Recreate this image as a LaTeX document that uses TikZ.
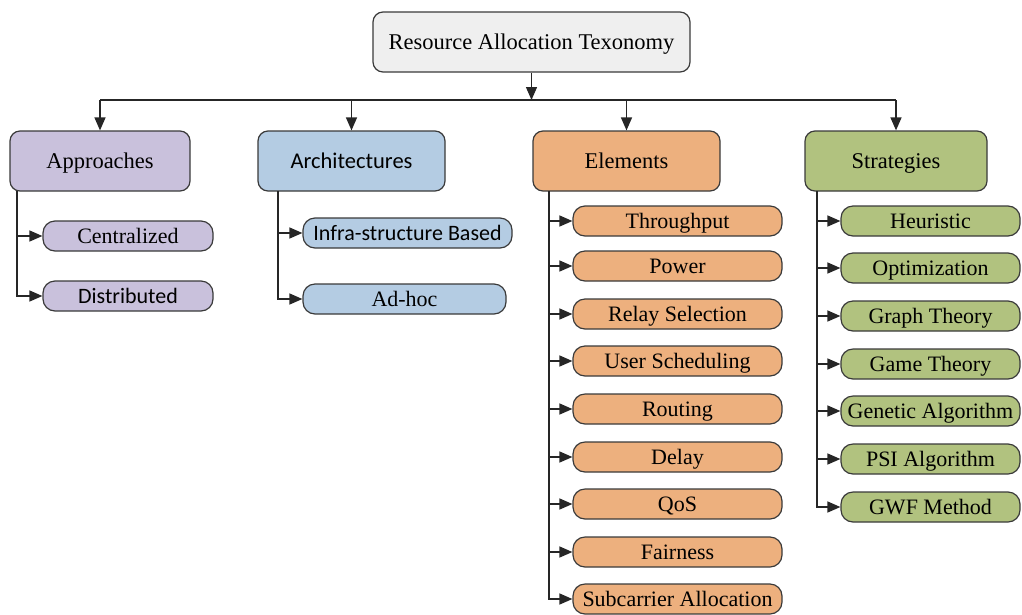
\documentclass[tikz,border=0pt]{standalone}
\usepackage{fontspec}
\setmainfont{Liberation Serif}
\newfontfamily\carl{Carlito}
\usetikzlibrary{arrows.meta}
\definecolor{topc}{HTML}{EFEFEF}
\definecolor{purp}{HTML}{C9C1DC}
\definecolor{blu}{HTML}{B4CCE3}
\definecolor{ora}{HTML}{EDB07E}
\definecolor{grn}{HTML}{B1C27F}
\definecolor{edge}{HTML}{3A3A3A}
\tikzset{
  x=1pt,y=-1pt,
  mainbox/.style={draw=edge,line width=1.2pt,rounded corners=10pt,minimum height=60pt,inner sep=0pt,text height=18pt,text depth=3pt,font=\fontsize{22.5}{24}\selectfont},
  kid/.style={draw=edge,line width=1.2pt,rounded corners=12pt,minimum height=30pt,inner sep=0pt,text height=18pt,text depth=3pt,font=\fontsize{22}{24}\selectfont},
  arr/.style={line width=1.4pt,draw=black!85,-{Triangle[length=13pt,width=11pt]}},
  ln/.style={line width=1.4pt,draw=black!85}
}
\begin{document}
\begin{tikzpicture}
\useasboundingbox (0,0) rectangle (1022,614);
% top
\node[mainbox,fill=topc,minimum width=317pt] (top) at (531.5,42) {Resource Allocation Texonomy};
% main boxes
\node[mainbox,fill=purp,minimum width=180pt] (ap) at (100,161) {Approaches};
\node[mainbox,fill=blu,minimum width=187pt] (ar) at (351.5,161) {\carl Architectures};
\node[mainbox,fill=ora,minimum width=187pt] (el) at (626.5,161) {Elements};
\node[mainbox,fill=grn,minimum width=182pt] (st) at (896,161) {Strategies};
% trunk
\coordinate (tj) at (531.5,100);
\coordinate (h1) at (100,100);
\coordinate (h4) at (896,100);
\coordinate (h2) at (351.5,100);
\coordinate (h3) at (626.5,100);
\draw[arr] (top.south) -- (tj);
\draw[ln] (h1) -- (h4);
\draw[arr] (h1) -- (ap.north);
\draw[arr] (h2) -- (ar.north);
\draw[arr] (h3) -- (el.north);
\draw[arr] (h4) -- (st.north);
% approaches children
\node[kid,fill=purp,minimum width=170pt] (a1) at (128,236) {Centralized};
\node[kid,fill=purp,minimum width=170pt] (a2) at (128,296) {\carl Distributed};
\coordinate (av) at (17,191);
\draw[arr] (av) |- (a1.west);
\draw[arr] (av) |- (a2.west);
% architectures children
\node[kid,fill=blu,minimum width=209pt] (b1) at (407.5,233) {\carl Infra-structure Based};
\node[kid,fill=blu,minimum width=203pt] (b2) at (404.5,299) {Ad-hoc};
\coordinate (bv) at (278,191);
\draw[arr] (bv) |- (b1.west);
\draw[arr] (bv) |- (b2.west);
% elements children
\coordinate (ev) at (549,191);
\foreach \n/\t/\y in {e1/Throughput/221,e2/Power/266,e3/Relay Selection/314,e4/User Scheduling/361,e5/Routing/409,e6/Delay/457,e7/QoS/504,e8/Fairness/552,e9/Subcarrier Allocation/599}{
  \node[kid,fill=ora,minimum width=209pt] (\n) at (677.5,\y) {\t};
  \draw[arr] (ev) |- (\n.west);
}
% strategies children
\coordinate (sv) at (817,191);
\foreach \n/\t/\y in {s1/Heuristic/221,s2/Optimization/268,s3/Graph Theory/316,s4/Game Theory/364,s5/Genetic Algorithm/411,s6/PSI Algorithm/459,s7/GWF Method/507}{
  \node[kid,fill=grn,minimum width=179pt] (\n) at (930.5,\y) {\t};
  \draw[arr] (sv) |- (\n.west);
}
\end{tikzpicture}
\end{document}
